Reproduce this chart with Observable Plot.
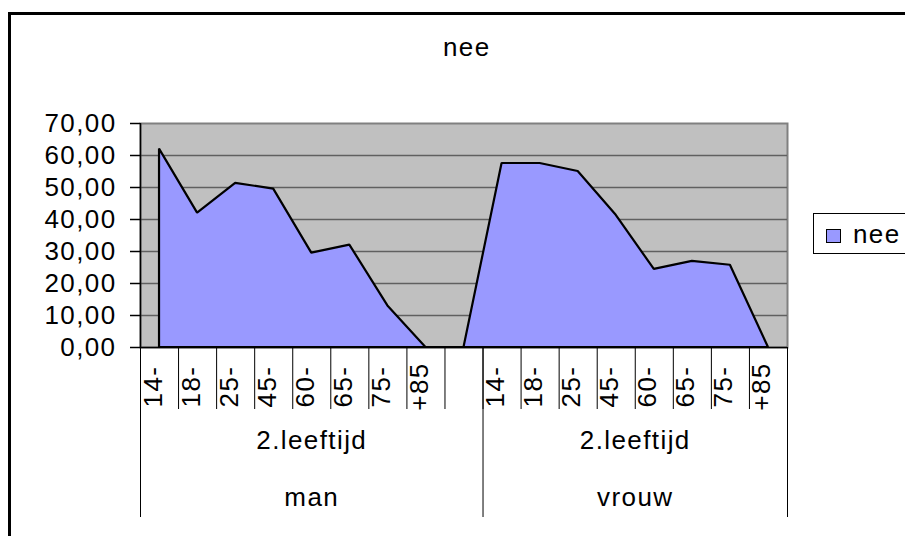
<!DOCTYPE html>
<html><head><meta charset="utf-8">
<script src="https://cdn.jsdelivr.net/npm/d3@7"></script>
<script src="https://cdn.jsdelivr.net/npm/@observablehq/plot@0.6"></script>
<style>
html,body{margin:0;padding:0;background:#fff;}
#wrap{position:relative;width:905px;height:536px;overflow:hidden;font-family:"Liberation Sans",Arial,sans-serif;color:#000;}
#border{position:absolute;left:8px;top:12px;width:1000px;height:1000px;border-left:3px solid #000;border-top:3px solid #000;box-sizing:border-box;}
#title{position:absolute;left:443px;top:34px;font-size:26px;line-height:26px;letter-spacing:1.4px;white-space:nowrap;}
#legend{position:absolute;left:813px;top:213px;width:120px;height:41px;border:1px solid #000;box-sizing:border-box;background:#fff;}
#legend .sw{position:absolute;left:12px;top:15px;width:15px;height:14px;background:#9999FF;border:1.5px solid #000;box-sizing:border-box;}
#legend .lb{position:absolute;left:39px;top:7px;font-size:26px;line-height:26px;letter-spacing:1.4px;white-space:nowrap;}
#chart{position:absolute;left:0;top:0;}
</style>
</head><body>
<div id="wrap">
  <div id="chart"></div>
  <div id="border"></div>
  <div id="title"></div>
  <div id="legend"><div class="sw"></div><div class="lb"></div></div>
</div>
<script>
// ---- data ----
const chartTitle = "nee";
const seriesName = "nee";
const groupLevel = "2.leeftijd";
const genders = ["man", "vrouw"];
const ages = ["14-", "18-", "25-", "45-", "60-", "65-", "75-", "+85"];
const manValues = [62.0, 42.0, 51.3, 49.5, 29.5, 32.0, 13.0, 0.0];
const vrouwValues = [57.5, 57.5, 55.0, 41.3, 24.4, 26.9, 25.7, 0.0];
const gapValue = 0;   // blank category between the two groups
const yTicks = [0, 10, 20, 30, 40, 50, 60, 70];

// ---- build table ----
const rows = [];
const groups = [];
const seriesByGender = {man: manValues, vrouw: vrouwValues};
genders.forEach((g, gi) => {
  const start = rows.length;
  ages.forEach((a, i) => rows.push({gender: g, age: a, value: seriesByGender[g][i]}));
  if (gi < genders.length - 1) rows.push({gender: g, age: "", value: gapValue});
  groups.push({gender: g, start, end: rows.length});
});
rows.forEach((r, i) => r.pos = i + 0.5);
groups.forEach(g => g.mid = (g.start + g.end) / 2);
const n = rows.length;
const bounds = d3.range(0, n + 1);
const groupBounds = [0, ...groups.map(g => g.end)];

const fmt = d => d.toFixed(2).replace(".", ",");
const FS = 26;

const plot = Plot.plot({
  width: 905,
  height: 536,
  marginLeft: 140,
  marginRight: 118,
  marginTop: 123,
  marginBottom: 189,
  style: {fontFamily: "Liberation Sans, Arial, sans-serif", fontSize: FS + "px", letterSpacing: "1.4px", background: "transparent", color: "#000"},
  x: {domain: [0, n]},
  y: {domain: [0, 70]},
  marks: [
    Plot.frame({fill: "#C0C0C0", stroke: "#808080", strokeWidth: 2}),
    Plot.ruleY(yTicks.filter(v => v > 0 && v < 70), {stroke: "#606060", strokeWidth: 1.5}),
    Plot.areaY(rows, {x: "pos", y: "value", fill: "#9999FF", stroke: "#000", strokeWidth: 2.2, strokeLinejoin: "miter", curve: "linear"}),
    Plot.ruleX([0], {stroke: "#000", strokeWidth: 1.5}),
    Plot.ruleY([0], {stroke: "#000", strokeWidth: 1.5}),
    Plot.axisY({ticks: yTicks, tickSize: 10, tickPadding: 14, tickFormat: fmt, fontSize: FS, strokeWidth: 1.5, label: null}),
    Plot.axisX({ticks: bounds, tickSize: 62, tickFormat: () => "", strokeWidth: 1, label: null}),
    Plot.axisX({ticks: groupBounds, tickSize: 170, tickFormat: () => "", strokeWidth: 1, label: null}),
    Plot.text(rows, {x: "pos", text: "age", frameAnchor: "bottom", rotate: -90, textAnchor: "middle", dy: 39, dx: 2, fontSize: FS}),
    Plot.text(groups, {x: "mid", text: () => groupLevel, frameAnchor: "bottom", dy: 101, fontSize: FS}),
    Plot.text(groups, {x: "mid", text: "gender", frameAnchor: "bottom", dy: 158, fontSize: FS})
  ]
});
document.getElementById("chart").appendChild(plot);
document.getElementById("title").textContent = chartTitle;
document.querySelector("#legend .lb").textContent = seriesName;
</script>
</body></html>
